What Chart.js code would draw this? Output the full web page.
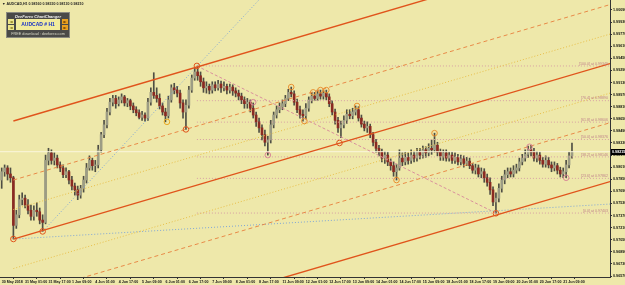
<!DOCTYPE html>
<html><head><meta charset="utf-8">
<script src="https://cdn.jsdelivr.net/npm/chart.js@4/dist/chart.umd.min.js"></script>
<style>
html,body{margin:0;padding:0;background:#EEE8AA;overflow:hidden;}
#wrap{position:relative;width:625px;height:285px;}
#c{position:absolute;left:0;top:0;}
#hdr{position:absolute;left:2px;top:2px;font:bold 3.6px 'Liberation Sans',Arial,sans-serif;color:#222;white-space:nowrap;}
#panel{position:absolute;left:6px;top:12px;width:62px;height:24px;background:#4a4a48;border:1px solid #8a8a80;font-family:'Liberation Sans',Arial,sans-serif;}
#panel .ttl{position:absolute;left:0;top:1px;width:62px;text-align:center;font:italic bold 4px 'Liberation Sans',Arial,sans-serif;color:#f0f0f0;white-space:nowrap;}
#panel .btn{position:absolute;width:6px;height:5px;font:4px 'DejaVu Sans',sans-serif;line-height:5px;text-align:center;}
#panel .l{left:1px;background:#ECE58A;color:#7a6a10;}
#panel .r{left:55px;background:#E8A020;color:#5a3000;}
#panel .t1{top:6px;} #panel .t2{top:12px;}
#panel .sym{position:absolute;left:9px;top:6px;width:44px;height:11px;background:#F2EC9C;color:#1530C8;font:bold 5px 'Liberation Sans',Arial,sans-serif;line-height:11px;text-align:center;white-space:nowrap;}
#panel .ftr{position:absolute;left:0;top:18.5px;width:62px;text-align:center;font:3.8px 'Liberation Sans',Arial,sans-serif;color:#d8d8c8;white-space:nowrap;}
</style></head>
<body><div id="wrap"><canvas id="c" width="625" height="285"></canvas>
<div id="hdr">▼ AUDCAD,H1 0.98160 0.98330 0.98130 0.98210</div>
<div id="panel">
 <div class="ttl">DeeForex ChartChanger</div>
 <div class="btn l t1">◄</div><div class="btn l t2">◄</div>
 <div class="sym">AUDCAD # H1</div>
 <div class="btn r t1">►</div><div class="btn r t2">►</div>
 <div class="ftr">FREE download : deeforex.com</div>
</div></div>
<script>
// ---------- data ----------
const timeLabels = ['30 May 2018','31 May 01:00','31 May 17:00','1 Jun 09:00','4 Jun 01:00','4 Jun 17:00','5 Jun 09:00','6 Jun 01:00','6 Jun 17:00','7 Jun 09:00','8 Jun 01:00','8 Jun 17:00','11 Jun 09:00','12 Jun 01:00','12 Jun 17:00','13 Jun 09:00','14 Jun 01:00','14 Jun 17:00','15 Jun 09:00','18 Jun 01:00','18 Jun 17:00','19 Jun 09:00','20 Jun 01:00','20 Jun 17:00','21 Jun 09:00'];
const timeTickBars = [0,16,32,48,64,80,96,112,128,144,160,176,192,208,224,240,256,272,288,304,320,336,352,368,384];
const priceTicks = [1.00090,0.99930,0.99770,0.99610,0.99450,0.99290,0.99130,0.98970,0.98810,0.98650,0.98490,0.98330,0.98170,0.98010,0.97850,0.97690,0.97530,0.97370,0.97210,0.97050,0.96890,0.96730,0.96570];
const HOURS_PER_BAR = 2;
const firstOpen = 0.9784;
const closes = [
0.9795,0.9800,0.9792,0.9787,0.9724,0.9738,0.9758,0.9760,0.9751,0.9744,
0.9736,0.9744,0.9742,0.9731,0.9728,0.9810,0.9820,0.9810,0.9813,0.9804,
0.9800,0.9791,0.9795,0.9784,0.9776,0.9771,0.9764,0.9773,0.9784,0.9800,
0.9810,0.9803,0.9804,0.9824,0.9844,0.9857,0.9874,0.9887,0.9892,0.9885,
0.9890,0.9894,0.9886,0.9889,0.9882,0.9877,0.9873,0.9867,0.9870,0.9866,
0.9887,0.9900,0.9896,0.9892,0.9882,0.9874,0.9869,0.9890,0.9906,0.9903,
0.9899,0.9886,0.9874,0.9883,0.9903,0.9919,0.9927,0.9922,0.9914,0.9906,
0.9908,0.9903,0.9910,0.9906,0.9911,0.9906,0.9908,0.9903,0.9907,0.9902,
0.9899,0.9895,0.9890,0.9885,0.9887,0.9879,0.9870,0.9861,0.9853,0.9844,
0.9834,0.9837,0.9857,0.9870,0.9877,0.9881,0.9885,0.9892,0.9900,0.9898,
0.9887,0.9877,0.9871,0.9869,0.9879,0.9890,0.9895,0.9892,0.9898,0.9895,
0.9899,0.9894,0.9885,0.9874,0.9863,0.9853,0.9857,0.9863,0.9871,0.9869,
0.9874,0.9877,0.9866,0.9858,0.9853,0.9855,0.9844,0.9834,0.9826,0.9821,
0.9813,0.9817,0.9808,0.9803,0.9795,0.9800,0.9813,0.9808,0.9814,0.9810,
0.9817,0.9813,0.9821,0.9817,0.9824,0.9820,0.9826,0.9824,0.9830,0.9821,
0.9816,0.9820,0.9813,0.9817,0.9810,0.9814,0.9808,0.9812,0.9806,0.9809,
0.9803,0.9797,0.9800,0.9792,0.9795,0.9787,0.9781,0.9771,0.9755,0.9760,
0.9773,0.9784,0.9791,0.9795,0.9792,0.9797,0.9800,0.9808,0.9813,0.9818,
0.9824,0.9821,0.9813,0.9817,0.9810,0.9805,0.9810,0.9804,0.9800,0.9803,
0.9797,0.9792,0.9795,0.9804,0.9816,0.9821];
const highs = [
0.9800,0.9804,0.9803,0.9800,0.9789,0.9744,0.9764,0.9767,0.9764,0.9758,
0.9751,0.9750,0.9754,0.9747,0.9738,0.9817,0.9826,0.9824,0.9820,0.9817,
0.9808,0.9804,0.9800,0.9797,0.9789,0.9780,0.9776,0.9777,0.9789,0.9806,
0.9816,0.9813,0.9810,0.9830,0.9847,0.9863,0.9879,0.9892,0.9896,0.9896,
0.9894,0.9898,0.9896,0.9892,0.9891,0.9886,0.9881,0.9877,0.9875,0.9873,
0.9892,0.9906,0.9926,0.9906,0.9898,0.9886,0.9879,0.9895,0.9910,0.9912,
0.9908,0.9903,0.9890,0.9890,0.9908,0.9923,0.9932,0.9935,0.9927,0.9919,
0.9914,0.9911,0.9914,0.9914,0.9916,0.9915,0.9914,0.9911,0.9911,0.9910,
0.9906,0.9903,0.9899,0.9894,0.9892,0.9890,0.9886,0.9874,0.9866,0.9857,
0.9850,0.9842,0.9863,0.9874,0.9882,0.9886,0.9890,0.9896,0.9904,0.9907,
0.9902,0.9891,0.9882,0.9877,0.9885,0.9894,0.9900,0.9900,0.9903,0.9903,
0.9903,0.9903,0.9898,0.9889,0.9878,0.9867,0.9862,0.9869,0.9877,0.9877,
0.9879,0.9882,0.9881,0.9870,0.9862,0.9861,0.9858,0.9847,0.9838,0.9830,
0.9825,0.9822,0.9821,0.9812,0.9808,0.9805,0.9824,0.9820,0.9821,0.9820,
0.9824,0.9822,0.9826,0.9826,0.9829,0.9828,0.9832,0.9837,0.9846,0.9834,
0.9825,0.9824,0.9824,0.9821,0.9821,0.9820,0.9818,0.9817,0.9816,0.9814,
0.9813,0.9806,0.9805,0.9804,0.9800,0.9799,0.9792,0.9787,0.9775,0.9767,
0.9779,0.9789,0.9797,0.9800,0.9800,0.9803,0.9805,0.9813,0.9818,0.9824,
0.9829,0.9830,0.9826,0.9822,0.9821,0.9814,0.9816,0.9814,0.9808,0.9808,
0.9806,0.9801,0.9800,0.9810,0.9821,0.9833];
const lows = [
0.9773,0.9789,0.9784,0.9781,0.9706,0.9720,0.9734,0.9751,0.9747,0.9739,
0.9731,0.9731,0.9736,0.9726,0.9716,0.9726,0.9804,0.9805,0.9804,0.9800,
0.9795,0.9787,0.9787,0.9779,0.9771,0.9764,0.9758,0.9760,0.9768,0.9780,
0.9797,0.9797,0.9795,0.9800,0.9821,0.9840,0.9853,0.9870,0.9882,0.9879,
0.9882,0.9886,0.9882,0.9881,0.9877,0.9873,0.9869,0.9865,0.9863,0.9862,
0.9863,0.9883,0.9892,0.9887,0.9878,0.9870,0.9861,0.9866,0.9887,0.9898,
0.9894,0.9879,0.9866,0.9851,0.9879,0.9900,0.9916,0.9916,0.9908,0.9900,
0.9899,0.9898,0.9899,0.9902,0.9903,0.9900,0.9902,0.9898,0.9899,0.9896,
0.9894,0.9890,0.9885,0.9879,0.9879,0.9874,0.9866,0.9855,0.9847,0.9837,
0.9829,0.9817,0.9833,0.9853,0.9866,0.9873,0.9877,0.9881,0.9889,0.9894,
0.9883,0.9873,0.9866,0.9862,0.9865,0.9875,0.9886,0.9889,0.9889,0.9891,
0.9891,0.9890,0.9881,0.9870,0.9858,0.9847,0.9840,0.9853,0.9859,0.9865,
0.9865,0.9870,0.9862,0.9854,0.9849,0.9847,0.9840,0.9829,0.9821,0.9816,
0.9808,0.9806,0.9803,0.9797,0.9789,0.9784,0.9797,0.9803,0.9804,0.9805,
0.9806,0.9808,0.9809,0.9812,0.9813,0.9814,0.9816,0.9818,0.9821,0.9816,
0.9810,0.9810,0.9809,0.9809,0.9806,0.9806,0.9804,0.9804,0.9801,0.9803,
0.9799,0.9793,0.9792,0.9788,0.9787,0.9781,0.9776,0.9765,0.9750,0.9740,
0.9755,0.9768,0.9779,0.9787,0.9788,0.9788,0.9793,0.9796,0.9804,0.9809,
0.9814,0.9816,0.9809,0.9808,0.9805,0.9801,0.9801,0.9800,0.9795,0.9796,
0.9792,0.9788,0.9787,0.9787,0.9800,0.9813];

// pitchfork (start bar -> right edge bar), prices at both ends
const forkBars = [8, 416];
const forkSolid = [[0.98621,1.00942],[0.97059,0.99380],[0.95498,0.97819]];
const forkHalf = [[0.97840,1.00161],[0.96279,0.98598]];
const forkQuarter = [[0.97450,0.99771],[0.96669,0.98990]];
// blue dotted trend lines [bar0, price0, bar1, price1]
const blueLines = [[28,0.9716,175.9,1.00222],[8,0.97059,416,0.97522]];
// fibonacci
const fibBars = [133.5, 338];
const fibPrices = [0.99349, 0.97403];
const fibLevelNames = ['0.0','23.6','38.2','50.0','61.8','76.4','100.0'];
const fibLevelPrices = [0.97403,0.97862,0.98146,0.98376,0.98606,0.98890,0.99349];
// zigzag pivots
const pivotBars = [8,28,113,126,133.5,172,182,198,207,213,218,222,231,243,270,296,338,361,386];
const pivotPrices = [0.9706,0.9716,0.9861,0.9851,0.9935,0.9887,0.9817,0.9907,0.9862,0.9900,0.9903,0.9903,0.9833,0.9882,0.9784,0.9846,0.9740,0.9828,0.9787];
const pivotKind = [0,0,1,0,0,2,2,3,3,3,3,3,0,3,3,3,0,2,2];
const bidPrice = 0.98215;

// ---------- build ----------
const X_MIN = -1.16, X_MAX = 416, Y_MIN = 0.96557, Y_MAX = 1.00222;
const BULL = '#9c9c84', BEAR = '#8a2a22', WICK = '#4e4e44';
const FONT = '"Liberation Sans", Arial, sans-serif';
const candles = closes.map((c,i)=>({x:i*HOURS_PER_BAR, o: i===0?firstOpen:closes[i-1], h:highs[i], l:lows[i], c}));
const seg = (b0,p0,b1,p1,color,width,dash,order)=>({type:'line',data:[{x:b0,y:p0},{x:b1,y:p1}],borderColor:color,borderWidth:width,borderDash:dash,pointRadius:0,fill:false,tension:0,order:order});
const datasets = [];
datasets.push({type:'bar',data:candles.map(k=>({x:k.x,y:[k.l,k.h]})),backgroundColor:WICK,barThickness:1,grouped:false,order:20});
datasets.push({type:'bar',data:candles.map(k=>({x:k.x,y:[Math.min(k.o,k.c),Math.max(k.o,k.c)]})),backgroundColor:candles.map(k=>k.c>=k.o?BULL:BEAR),barThickness:2,grouped:false,order:19});
fibLevelPrices.forEach(p=>datasets.push(seg(fibBars[0],p,X_MAX,p,'#D7A0A4',1,[1,2],15)));
datasets.push(seg(X_MIN,bidPrice,X_MAX,bidPrice,'#FAF6DC',1,[],16));
datasets.push(seg(fibBars[0],fibPrices[0],fibBars[1],fibPrices[1],'#D9909C',1,[3,2],5));
forkQuarter.forEach(p=>datasets.push(seg(forkBars[0],p[0],forkBars[1],p[1],'#E8BE48',1,[1,2],6)));
forkHalf.forEach(p=>datasets.push(seg(forkBars[0],p[0],forkBars[1],p[1],'#E88A48',1,[4,3],6)));
forkSolid.forEach(p=>datasets.push(seg(forkBars[0],p[0],forkBars[1],p[1],'#E0541C',1.4,[],4)));
blueLines.forEach(l=>datasets.push(seg(l[0],l[1],l[2],l[3],'#7FA6D6',1,[1,2],7)));
const kindColor = ['#E0541C','#E8A820','#D88896','#E89030'];
datasets.push({type:'line',showLine:false,data:pivotBars.map((b,i)=>({x:b,y:pivotPrices[i]})),pointRadius:2.8,pointStyle:'circle',pointBackgroundColor:'rgba(0,0,0,0)',pointBorderColor:pivotKind.map(k=>kindColor[k]),pointBorderWidth:1,order:1});

const overlay = {
 id:'overlay',
 afterDatasetsDraw(chart){
  const ctx=chart.ctx, xs=chart.scales.x, ys=chart.scales.y;
  ctx.save();
  ctx.font='3.6px '+FONT;
  ctx.fillStyle='#C0848C'; ctx.textAlign='right'; ctx.textBaseline='bottom';
  fibLevelPrices.forEach((p,i)=>{
    ctx.fillText('['+fibLevelNames[i]+'] at '+p.toFixed(5), xs.right-2, ys.getPixelForValue(p)-0.5);
  });
  ctx.restore();
 },
 afterDraw(chart){
  const ctx=chart.ctx, xs=chart.scales.x, ys=chart.scales.y;
  const y=ys.getPixelForValue(bidPrice);
  ctx.save();
  ctx.fillStyle='#000'; ctx.fillRect(xs.right+1, Math.round(y)-3, 14, 6);
  ctx.fillStyle='#fff'; ctx.font='bold 3.7px '+FONT;
  ctx.textAlign='left'; ctx.textBaseline='middle';
  ctx.fillText(bidPrice.toFixed(5), xs.right+2, Math.round(y));
  ctx.restore();
 }
};

new Chart(document.getElementById('c'),{
 type:'bar',
 data:{datasets},
 plugins:[overlay],
 options:{
  responsive:false, animation:false, devicePixelRatio:1,
  layout:{padding:0, autoPadding:false},
  plugins:{legend:{display:false},tooltip:{enabled:false}},
  scales:{
   x:{type:'linear',position:'bottom',min:X_MIN,max:X_MAX,offset:false,
      grid:{display:true,drawOnChartArea:false,drawTicks:true,tickLength:2,color:'#333'},
      border:{display:true,color:'#333',width:1},
      afterBuildTicks:s=>{s.ticks=timeTickBars.map(v=>({value:v}));},
      afterFit:s=>{s.height=8;s.paddingLeft=0;s.paddingRight=0;},
      ticks:{autoSkip:false,maxRotation:0,minRotation:0,align:'start',padding:1,color:'#111',
        font:{size:3.6,weight:'bold',family:FONT},
        callback:(v)=>{const i=timeTickBars.indexOf(v);return i>=0?timeLabels[i]:'';}}},
   y:{type:'linear',position:'right',min:Y_MIN,max:Y_MAX,
      grid:{display:true,drawOnChartArea:false,drawTicks:true,tickLength:2,color:'#333'},
      border:{display:true,color:'#333',width:1},
      afterBuildTicks:s=>{s.ticks=priceTicks.map(v=>({value:v}));},
      afterFit:s=>{s.width=15;s.paddingTop=0;s.paddingBottom=0;},
      ticks:{padding:1,color:'#111',font:{size:3.7,weight:'bold',family:FONT},
        callback:(v)=>v.toFixed(5)}}
  }
 }
});
</script></body></html>
